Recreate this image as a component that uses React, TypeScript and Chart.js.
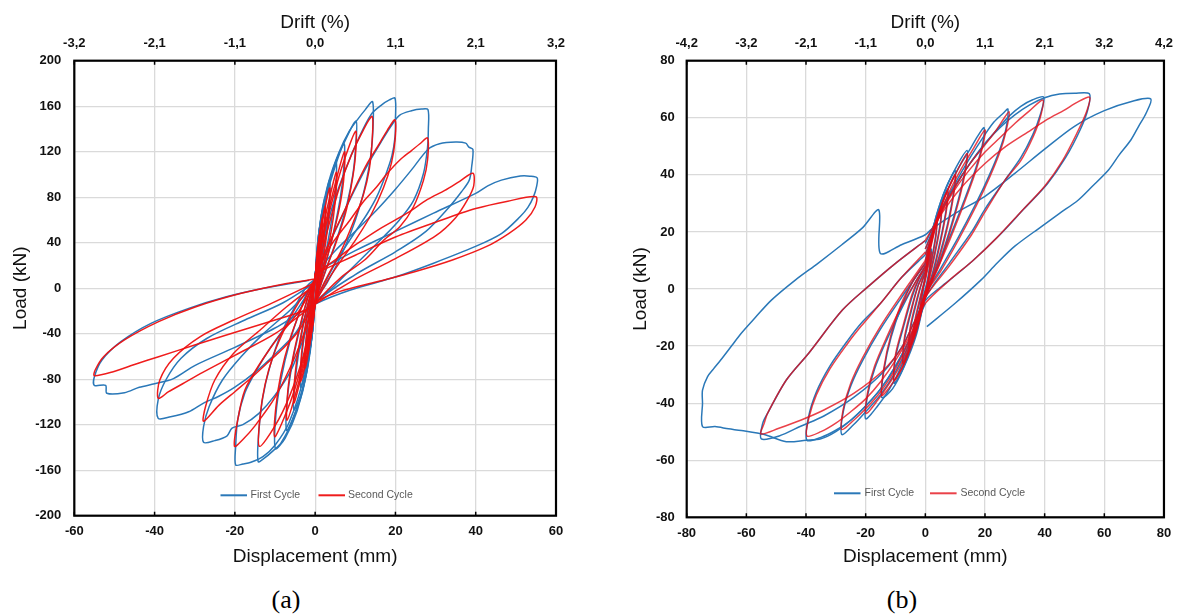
import React, { useEffect, useRef } from 'react';
import { Chart, registerables } from 'chart.js';

Chart.register(...registerables);

type P = [number, number];

// ---------------- Panel (a): displacement (mm), load (kN) ----------------
// First cycle (blue)
const A1_07: P[] = [[0,8],[0.3,24],[0.7,40],[0.6,24],[0.3,4],[0,-12],[-0.3,-24],[-0.7,-40],[-0.6,-24],[-0.3,-4],[0,8]];
const A1_12: P[] = [[0,8],[0.5,35],[1.2,55],[1.1,35],[0.6,12],[0,-12],[-0.5,-32],[-1.2,-50],[-1.1,-32],[-0.6,-10],[0,8]];
const A1_18: P[] = [[0,8],[0.7,42],[1.8,68],[1.6,45],[0.9,15],[0,-12],[-0.7,-40],[-1.8,-62],[-1.6,-42],[-0.9,-14],[0,8]];
const A1_25: P[] = [[0,9],[0.9,48],[1.8,70],[2.5,80],[2.3,55],[1.3,20],[0,-12],[-0.9,-45],[-1.8,-64],[-2.5,-72],[-2.3,-50],[-1.3,-17],[0,8]];
const A1_36: P[] = [[0,9],[1,50],[2.3,78],[3.6,95],[3.4,70],[2.2,35],[1,5],[0,-12],[-1,-48],[-2.3,-73],[-3.6,-87],[-3.4,-62],[-2.2,-30],[-1,-5],[0,8]];
const A1_53: P[] = [[0,10],[1.2,50],[3,85],[5.2,111],[5.1,88],[4.1,60],[2.5,28],[1,3],[0,-13],[-1.2,-55],[-3,-88],[-5.3,-107],[-5,-82],[-3.8,-50],[-2.2,-20],[0,8]];
const A1_73: P[] = [[0,10],[1.2,48],[2.8,80],[4.7,104],[7.2,127],[7.1,104],[6.2,78],[4.5,48],[2.5,20],[0,-13],[-1.5,-60],[-3.5,-95],[-5.5,-114],[-7.1,-125],[-7,-100],[-5.8,-68],[-3.8,-35],[-1.8,-8],[0,8]];
const A1_101: P[] = [[0,10],[1.2,50],[2.8,82],[5,110],[7.5,130],[10.2,147],[10.1,125],[9.4,100],[8,75],[6,50],[3.5,24],[1.5,4],[0,-13],[-2,-72],[-4.5,-108],[-7.5,-132],[-9.9,-141],[-9.8,-112],[-8.5,-80],[-6.3,-47],[-3.8,-20],[-1.5,0],[0,8]];
const A1_143: P[] = [[0,10],[1.5,58],[3.5,95],[6,120],[8.5,138],[10.5,148],[12.5,157],[14.3,164],[14.4,140],[13.9,118],[12.8,95],[11.2,73],[8.8,48],[6,25],[3,5],[0,-13],[-2.5,-78],[-5.5,-115],[-8.5,-136],[-10.5,-143],[-12.5,-149],[-14.2,-152.5],[-14,-125],[-13,-95],[-11.2,-68],[-8.5,-40],[-5,-16],[-2,2],[0,8]];
const A1_199: P[] = [[0,11],[2,42],[4.5,74],[7.5,104],[11,133],[14,153],[16.5,161],[18.5,165.5],[19.9,167],[20,148],[19.9,133],[19.1,116],[17.4,98],[15.3,80],[12.9,65],[9.5,47],[6.2,29],[2.9,8],[0,-13],[-3,-80],[-6.5,-118],[-10,-138],[-13,-148],[-16,-153],[-18,-154.5],[-19.8,-155.4],[-19.8,-139],[-19.3,-116],[-17.5,-92],[-14.6,-72],[-10.9,-51],[-6.2,-28],[-2.5,-8],[0,6]];
const A1_28: P[] = [[0,12],[3,35],[6,58],[9.5,84],[13,108],[16.5,129],[19,143],[21,152],[24,156],[26.5,157.5],[28.1,157],[28.2,140],[28,124],[27,101],[24.5,77],[21,60],[17,45],[13,31],[8.7,16],[4.5,1],[0,-13],[-3,-45],[-6,-72],[-10,-94],[-14,-110],[-18,-120],[-20.7,-123],[-22,-130],[-25,-134],[-27.8,-135.5],[-27.8,-121.7],[-26.4,-104],[-23.1,-80.7],[-18.4,-60],[-12.8,-39.7],[-6.2,-19.2],[0,4]];
const A1_39: P[] = [[0,13],[5,33],[10,50],[15.4,69],[20,87],[24,104],[28.1,122],[31,127],[35,128.5],[37.5,127.5],[38.3,124],[39.3,122],[39,107],[38.4,95],[36.5,85],[33.3,71],[27.6,50],[20,32],[10,12],[0,-13],[-5,-40],[-10,-58],[-15,-74],[-20,-87],[-24,-95],[-27.8,-101],[-31.5,-108.6],[-36,-113],[-39.1,-114.4],[-39.1,-98],[-37.2,-80.7],[-33.4,-61.6],[-26.9,-44],[-17.5,-28],[-8.1,-13],[0,5]];
const A1_55: P[] = [[0,14],[10,33],[20,50],[29.5,66],[40,83.4],[43,90],[46.4,95],[51.1,98.6],[53.5,98.5],[55.3,97],[55.2,90],[54.4,80.5],[53,71],[51.1,63],[46.4,48],[39.8,36.5],[29.5,22],[20.1,10],[8.8,-1.6],[0,-14],[-10,-35],[-20,-52],[-30,-68],[-35.3,-79.5],[-40,-84],[-43.8,-87.1],[-47.5,-91.9],[-51.9,-92.4],[-52.2,-85.4],[-55,-85.4],[-55,-77.8],[-53.1,-63.1],[-48.4,-47],[-40.9,-30.9],[-31.5,-17.7],[-22.1,-7.5],[-12.8,0],[-1.5,7]];

// Second cycle (red)
const A2_07: P[] = [[0,8],[0.3,22],[0.7,35],[0.6,20],[0.3,2],[0,-12],[-0.3,-22],[-0.7,-35],[-0.6,-20],[-0.3,-3],[0,8]];
const A2_12: P[] = [[0,8],[0.5,30],[1.2,50],[1.1,30],[0.6,10],[0,-12],[-0.5,-28],[-1.2,-45],[-1.1,-28],[-0.6,-8],[0,8]];
const A2_18: P[] = [[0,8],[0.8,38],[1.8,62],[1.6,40],[0.9,12],[0,-12],[-0.8,-36],[-1.8,-57],[-1.6,-37],[-0.9,-12],[0,8]];
const A2_25: P[] = [[0,9],[1,44],[2.5,72],[2.3,48],[1.3,17],[0,-12],[-1,-42],[-2.5,-70],[-2.3,-46],[-1.3,-15],[0,8]];
const A2_36: P[] = [[0,9],[1.3,48],[3.6,88],[3.4,62],[2.2,30],[1,4],[0,-12],[-1.3,-46],[-3.6,-82],[-3.4,-58],[-2.2,-27],[-1,-4],[0,8]];
const A2_53: P[] = [[0,10],[1.8,50],[3.5,78],[5.3,102],[5,76],[3.8,46],[2,18],[0,-13],[-1.8,-50],[-3.5,-78],[-5.3,-101],[-5,-76],[-3.8,-46],[-2,-16],[0,8]];
const A2_73: P[] = [[0,10],[2,48],[4.5,85],[7.3,120],[7.1,95],[6,70],[4,40],[2,15],[0,-13],[-2,-50],[-4.5,-88],[-7,-116],[-6.8,-90],[-5.6,-62],[-3.7,-32],[-1.8,-8],[0,8]];
const A2_101: P[] = [[0,10],[2,45],[4.5,80],[7,110],[10.1,138],[10,115],[9,90],[7.5,65],[5,38],[2.5,15],[0,-13],[-2.5,-55],[-5,-88],[-7.5,-112],[-10.1,-130.5],[-9.8,-105],[-8.5,-75],[-6.3,-45],[-3.5,-18],[-1.3,0],[0,8]];
const A2_142: P[] = [[0,11],[3,50],[6,88],[9,117],[12,139],[14.2,151],[14.2,130],[13.5,105],[12,82],[9.5,58],[6.5,33],[3,10],[0,-13],[-3,-60],[-6.5,-96],[-10,-121],[-13.9,-139],[-13.7,-112],[-12.5,-85],[-10.5,-60],[-7.5,-35],[-4,-12],[0,6]];
const A2_199: P[] = [[0,12],[3.5,40],[7,66],[10,89],[13,110],[16,127],[18,139],[19.9,148],[19.9,130],[19,110],[17,88],[14,65],[10,42],[6,22],[3,6],[0,-14],[-5,-60],[-10,-96],[-15,-121],[-18,-133],[-20.1,-139],[-19.3,-116],[-17.5,-89.5],[-13.7,-66],[-9.1,-42.7],[-4.4,-22],[0,4]];
const A2_28: P[] = [[0,12],[4,38],[8.7,60],[12,76],[15.3,89],[18,101],[21.1,112.7],[24,121],[26.1,127],[28,132],[28,112.7],[27,95],[24.5,71.6],[21.1,54],[17,42],[12.4,25],[6.6,10],[0,-14],[-4,-37],[-8,-53],[-12,-66],[-16,-79],[-20,-91],[-24,-103],[-27.8,-117],[-27.3,-104],[-25,-80.7],[-20.3,-57.2],[-13.7,-36.7],[-7.1,-16.3],[0,3]];
const A2_39: P[] = [[0,12],[5,25],[10,38],[16,52],[22.9,66],[28,78],[32.3,86],[36,94],[39.3,101],[39.5,90],[38,78],[35,62],[30,46],[20,26],[10,8],[0,-14],[-10,-40],[-20,-59],[-28,-74],[-33,-84],[-36.5,-91],[-39.1,-96.8],[-38.7,-80.7],[-35.3,-61.6],[-28.7,-42.7],[-20.3,-28],[-10.9,-13.3],[0,5]];
const A2_55: P[] = [[0,13],[10,29],[20,45],[30,58],[40,70],[48,76.5],[55,80.4],[54.8,71.6],[52.5,60],[48.3,48.3],[42.6,36.5],[34.2,24.8],[24.8,14.5],[15.4,5.7],[6,-3],[0,-12],[-2.4,-19.2],[-10,-28],[-22.1,-41.1],[-30,-50],[-39,-60.2],[-45,-67],[-50.3,-73.4],[-55,-76.9],[-54.8,-71.9],[-52.7,-60.2],[-47.5,-45.5],[-39,-29.4],[-29.7,-16.3],[-18.4,-4.5],[-7.1,4.2],[0,8]];

const A_FIRST: P[][] = [A1_07, A1_12, A1_18, A1_25, A1_36, A1_53, A1_73, A1_101, A1_143, A1_199, A1_28, A1_39, A1_55];
const A_SECOND: P[][] = [A2_07, A2_12, A2_18, A2_25, A2_36, A2_53, A2_73, A2_101, A2_142, A2_199, A2_28, A2_39, A2_55];

const A_X_TICKS = [-60, -40, -20, 0, 20, 40, 60];
const A_DRIFT_LABELS = ['-3,2', '-2,1', '-1,1', '0,0', '1,1', '2,1', '3,2'];
const A_Y_TICKS = [-200, -160, -120, -80, -40, 0, 40, 80, 120, 160, 200];

// ---------------- Panel (b) ----------------
// First cycle (blue)
const B1_02: P[] = [[0,4],[1,9],[2,14],[1.6,9],[0.8,3],[0,0],[-1,-5],[-2,-10],[-1.6,-6],[-0.8,-1],[0,4]];
const B1_04: P[] = [[0,5],[1.5,14],[2.8,20],[4,26],[3.5,19],[2,10],[0.5,2],[0,-1],[-1.5,-8],[-3,-14],[-4,-18],[-3.5,-12],[-2,-5],[-0.5,2],[0,5]];
const B1_055: P[] = [[0,6],[2,17],[4,25],[5.5,30],[5,23],[3,12],[1,3],[0,-1],[-2,-10],[-4,-17],[-5.5,-21],[-5,-14],[-3,-5],[-1,3],[0,6]];
const B1_075: P[] = [[0,7],[2.5,20],[5,29],[7.5,35],[7,28],[5,17],[2.5,6],[0,-2],[-2.5,-12],[-5,-20],[-7.5,-26.5],[-7,-18],[-5,-9],[-2.5,1],[0,7]];
const B1_10: P[] = [[0,8],[3,23],[6,33],[8,38],[10,41.5],[9.5,34],[7.5,23],[4.5,11],[2,3],[0,-3],[-3,-15],[-6,-24],[-8,-29],[-10.5,-33],[-10,-24],[-7.5,-14],[-4.5,-3],[-2,4],[0,8]];
const B1_14: P[] = [[0,9],[3,23],[6,33],[10,42],[14,48.5],[13.2,41],[11,31],[8,20],[4.5,9],[0,-3],[-3,-16],[-7,-27],[-11,-35],[-14.6,-38],[-13.8,-28],[-11.5,-17],[-8,-6],[-4,3],[0,9]];
const B1_20: P[] = [[0,10],[4,26],[8,36],[12,44],[15,49],[17.5,53.5],[19.7,56.5],[19,50],[16.5,41],[13,31],[8.5,19],[4,8],[0,-1],[-4,-16],[-8,-27],[-12,-35],[-16,-41],[-20,-45.5],[-19.3,-37],[-17,-28],[-13,-18],[-8,-7],[-3,3],[0,8]];
const B1_28: P[] = [[0,12],[5,27],[10,37],[15,46],[19.9,54],[23,58.5],[26,61.5],[27.7,63],[27,56],[25,49],[21.5,40],[17,30],[11,18],[5,7],[0,-2],[-5,-18],[-10,-29],[-15,-37],[-20,-43],[-24,-47.5],[-28,-51],[-27.5,-43],[-25,-34],[-21,-25],[-15,-14],[-8,-3],[0,9]];
const B1_40: P[] = [[0,14],[5,27],[10,36],[15,44],[20,51],[25,57],[28,60.5],[32,64],[36,66.3],[39.7,67.2],[38.5,61],[36,54],[32,46],[26.6,38],[20,28],[15.5,20],[8,9],[0,-3],[-5,-17],[-10,-27],[-15,-35],[-20,-41],[-25,-46],[-30,-49.5],[-35,-52],[-39.7,-53],[-39.2,-45],[-36.5,-36],[-32,-27],[-26,-18],[-21.5,-12],[-15,-5],[-8,4],[0,12]];
const B1_55: P[] = [[0,16],[5,27],[10,36],[15,44],[20,51],[25,56.5],[30,61],[35,64.5],[40,67],[45,68.3],[50,68.6],[55,68.4],[54.5,63],[52,56],[47,46],[41,37],[33,28],[25,19],[16,10],[8,3],[0,-4],[-3.9,-12],[-7.7,-20],[-14,-29],[-24,-38],[-34,-44.5],[-41.6,-48],[-49,-51.5],[-55,-52.5],[-54.5,-47],[-52.9,-43.6],[-46.6,-31.9],[-39.1,-22.5],[-27.8,-7.4],[-19,1],[-10,9],[0,17]];
const B1_75: P[] = [[0,-5],[-5,-17],[-10,-27],[-15,-35],[-20,-41],[-25,-46],[-30,-50],[-35,-52.5],[-40,-53],[-46.6,-53.5],[-54,-51],[-61.7,-49.6],[-66,-49],[-70.5,-48.2],[-74.7,-48.2],[-74.7,-40],[-74.7,-35.4],[-73,-30.7],[-71,-28],[-68.6,-24.9],[-65,-20],[-61.7,-15.5],[-57,-10],[-51.6,-3.9],[-43.5,3.2],[-36,9],[-28,15.5],[-21,21.5],[-15.6,27.7],[-15.1,12.5],[-8,15.5],[0,19],[2.1,21],[10,26.5],[20,32.5],[30,40.5],[40,49],[50,57],[60,62.5],[70,66],[75.6,66.6],[74,61.6],[71.5,57],[68.9,52.2],[65,47],[61.4,41.7],[56,36],[51.3,31.2],[45,26.5],[38.8,21.8],[30,15],[24,9],[18.7,3.2],[10,-5],[0.5,-13.2]];

// Second cycle (red)
const B2_02: P[] = [[0,3],[1,8],[2,13],[1.6,8],[0.8,2],[0,-1],[-1,-5],[-2,-10],[-1.6,-5],[-0.8,0],[0,3]];
const B2_04: P[] = [[0,4],[1.5,13],[2.8,19],[4,25],[3.5,18],[2,9],[0.5,1],[0,-1],[-1.5,-8],[-3,-13],[-4,-17],[-3.5,-11],[-2,-4],[-0.5,2],[0,4]];
const B2_055: P[] = [[0,5],[2,16],[4,24],[5.5,29],[5,22],[3,11],[1,2],[0,-2],[-2,-10],[-4,-16],[-5.5,-20.5],[-5,-13],[-3,-4],[-1,3],[0,5]];
const B2_075: P[] = [[0,6],[2.5,19],[5,28],[7.5,34],[7,27],[5,16],[2.5,5],[0,-2],[-2.5,-12],[-5,-19.5],[-7.5,-26],[-7,-17],[-5,-8],[-2.5,1],[0,6]];
const B2_10: P[] = [[0,7],[3,21],[6,31],[8,36],[10,40],[9.5,33],[7.5,22],[4.5,10],[2,2],[0,-3],[-3,-14],[-6,-23],[-8,-28],[-10.5,-32],[-10,-23],[-7.5,-13],[-4.5,-2],[-2,4],[0,7]];
const B2_14: P[] = [[0,9],[3,22],[6,31],[10,40],[14,47.5],[13.2,40],[11,30],[8,19],[4.5,8],[0,-3],[-3,-15],[-7,-26],[-11,-33],[-14.6,-37.2],[-13.8,-27],[-11.5,-16],[-8,-5],[-4,3],[0,9]];
const B2_20: P[] = [[0,10],[4,24],[8,34],[12,42],[16,49],[20,55.7],[19,49],[16.5,40],[13,30],[8.5,18],[4,7],[0,-1],[-4,-15],[-8,-26],[-12,-33],[-16,-39],[-19.9,-43.6],[-19.3,-36],[-17,-27],[-13,-17],[-8,-6],[-3,3],[0,8]];
const B2_28: P[] = [[0,12],[5,26],[10,36],[15,44],[20,50.5],[24,56],[28.1,62.1],[27,55],[25,48],[21.5,39],[17,29],[11,17],[5,6],[0,-2],[-5,-17],[-10,-28],[-15,-36],[-20,-42],[-24,-46],[-28,-49.2],[-27.5,-42],[-25,-33],[-21,-24],[-15,-13],[-8,-2],[0,10]];
const B2_40: P[] = [[0,14],[5,26],[10,35],[15,42],[20,48],[25,53],[30,58],[35,62.5],[39.4,66.2],[38.5,60],[36,53],[32,45],[26.6,38],[20,27],[15.5,19],[8,8],[0,-3],[-5,-16],[-10,-25],[-15,-32.5],[-20,-38.5],[-25,-43],[-30,-47],[-35,-50],[-39.7,-51.5],[-39,-45],[-36.5,-37],[-32,-28],[-26,-19],[-21.5,-13],[-15,-5],[-8,4],[0,13]];
const B2_55: P[] = [[0,17],[5.5,26.5],[12,35.5],[20,44],[27,50],[35.4,55.7],[41,59.5],[46.6,62.7],[51,65.5],[55.1,67.2],[54,62],[51,55],[46,45],[40,36],[32,27],[24,18],[16,10],[8,3],[0,-5],[-3.9,-12],[-7.7,-20.2],[-14,-28.4],[-24,-36.6],[-34,-42.4],[-41.6,-45.9],[-49.1,-48.8],[-55.1,-50.8],[-54,-47],[-52.9,-43.6],[-46.6,-31.9],[-39.1,-22.5],[-27.8,-7.4],[-19,1],[-10,9],[0,17]];

const B_FIRST: P[][] = [B1_02, B1_04, B1_055, B1_075, B1_10, B1_14, B1_20, B1_28, B1_40, B1_55, B1_75];
const B_SECOND: P[][] = [B2_02, B2_04, B2_055, B2_075, B2_10, B2_14, B2_20, B2_28, B2_40, B2_55];

const B_X_TICKS = [-80, -60, -40, -20, 0, 20, 40, 60, 80];
const B_DRIFT_LABELS = ['-4,2', '-3,2', '-2,1', '-1,1', '0,0', '1,1', '2,1', '3,2', '4,2'];
const B_Y_TICKS = [-80, -60, -40, -20, 0, 20, 40, 60, 80];

const SERIES_LABELS = ['First Cycle', 'Second Cycle'];
const BLUE = '#2a78b8';

const FONT = 'Liberation Sans, Arial, Helvetica, sans-serif';

interface Spec {
  xTicks: number[];
  drift: string[];
  yTicks: number[];
  first: P[][];
  second: P[][];
  red: string;
  yAxisW: number;
  yTitlePad: number;
  yTickPad: number;
  topH: number;
  topTitlePad: number;
  topTickPad: number;
  bottomH: number;
  bottomTitlePad: number;
  bottomTickPad: number;
  padRight: number;
  legend: { b0: number; b1: number; bt: number; r0: number; r1: number; rt: number; y: number };
}

const SPEC_A: Spec = {
  xTicks: A_X_TICKS, drift: A_DRIFT_LABELS, yTicks: A_Y_TICKS,
  first: A_FIRST, second: A_SECOND, red: 'rgba(238,16,16,0.95)',
  yAxisW: 74.3, yTitlePad: 9, yTickPad: 13,
  topH: 60.7, topTitlePad: 11, topTickPad: 9,
  bottomH: 59.3, bottomTitlePad: 7, bottomTickPad: 8,
  padRight: 35,
  legend: { b0: 220.5, b1: 247, bt: 250.5, r0: 318.5, r1: 345, rt: 348, y: 495.3 },
};

const SPEC_B: Spec = {
  xTicks: B_X_TICKS, drift: B_DRIFT_LABELS, yTicks: B_Y_TICKS,
  first: B_FIRST, second: B_SECOND, red: 'rgba(228,12,22,0.78)',
  yAxisW: 95.7, yTitlePad: 38.5, yTickPad: 12,
  topH: 60.7, topTitlePad: 11, topTickPad: 9,
  bottomH: 57.7, bottomTitlePad: 7, bottomTickPad: 8,
  padRight: 15,
  legend: { b0: 243, b1: 269.5, bt: 273.6, r0: 339, r1: 365.6, rt: 369.4, y: 493.3 },
};

const W = 591;
const H = 575;

function Panel({ spec, left }: { spec: Spec; left: number }) {
  const ref = useRef<HTMLCanvasElement | null>(null);

  useEffect(() => {
    if (!ref.current) return;
    const datasets: any[] = [];
    spec.second.forEach((loop) =>
      datasets.push({
        label: SERIES_LABELS[1],
        data: loop.map(([x, y]) => ({ x, y })),
        borderColor: spec.red,
        backgroundColor: spec.red,
        borderWidth: 1.5,
        showLine: true,
        pointRadius: 0,
        tension: 0.3,
        fill: false,
        order: 0,
      })
    );
    spec.first.forEach((loop) =>
      datasets.push({
        label: SERIES_LABELS[0],
        data: loop.map(([x, y]) => ({ x, y })),
        borderColor: BLUE,
        backgroundColor: BLUE,
        borderWidth: 1.5,
        showLine: true,
        pointRadius: 0,
        tension: 0.3,
        fill: false,
        order: 1,
      })
    );

    const xMin = spec.xTicks[0];
    const xMax = spec.xTicks[spec.xTicks.length - 1];
    const yMin = spec.yTicks[0];
    const yMax = spec.yTicks[spec.yTicks.length - 1];
    const tickFont = { family: FONT, size: 13, weight: 'bold' as const };
    const titleFont = { family: FONT, size: 19 };

    const framePlugin = {
      id: 'frameAndLegend',
      afterDatasetsDraw(chart: any) {
        const { ctx, chartArea } = chart;
        const { left: l, right: r, top: t, bottom: b } = chartArea;
        const xs = chart.scales.x;
        ctx.save();
        ctx.strokeStyle = '#000';
        ctx.lineWidth = 1.5;
        spec.xTicks.forEach((v) => {
          const px = xs.getPixelForValue(v);
          ctx.beginPath();
          ctx.moveTo(px, t);
          ctx.lineTo(px, t + 4);
          ctx.moveTo(px, b);
          ctx.lineTo(px, b - 4);
          ctx.stroke();
        });
        ctx.lineWidth = 2.2;
        ctx.strokeRect(l, t, r - l, b - t);

        // legend inside plot
        const lg = spec.legend;
        ctx.lineWidth = 2;
        ctx.strokeStyle = BLUE;
        ctx.beginPath();
        ctx.moveTo(lg.b0, lg.y);
        ctx.lineTo(lg.b1, lg.y);
        ctx.stroke();
        ctx.strokeStyle = spec.red;
        ctx.beginPath();
        ctx.moveTo(lg.r0, lg.y);
        ctx.lineTo(lg.r1, lg.y);
        ctx.stroke();
        ctx.fillStyle = '#595959';
        ctx.font = `10.5px ${FONT}`;
        ctx.textBaseline = 'middle';
        ctx.textAlign = 'left';
        ctx.fillText(SERIES_LABELS[0], lg.bt, lg.y);
        ctx.fillText(SERIES_LABELS[1], lg.rt, lg.y);
        ctx.restore();
      },
    };

    const chart = new Chart(ref.current, {
      type: 'scatter',
      data: { datasets },
      options: {
        animation: false,
        responsive: false,
        devicePixelRatio: 1,
        layout: { padding: { left: 0, right: spec.padRight, top: 0, bottom: 0 } },
        plugins: {
          legend: { display: false },
          tooltip: { enabled: false },
          title: { display: false },
        },
        scales: {
          x: {
            type: 'linear',
            position: 'bottom',
            min: xMin,
            max: xMax,
            afterBuildTicks: (axis: any) => {
              axis.ticks = spec.xTicks.map((v) => ({ value: v }));
            },
            afterFit: (axis: any) => {
              axis.height = spec.bottomH;
            },
            grid: { color: '#dadada', lineWidth: 1.3, drawTicks: false },
            border: { display: false },
            ticks: { padding: spec.bottomTickPad, font: tickFont, color: '#111', maxRotation: 0, autoSkip: false },
            title: {
              display: true,
              text: 'Displacement (mm)',
              font: titleFont,
              color: '#111',
              padding: { top: 0, bottom: spec.bottomTitlePad },
            },
          },
          x2: {
            type: 'linear',
            position: 'top',
            min: xMin,
            max: xMax,
            afterBuildTicks: (axis: any) => {
              axis.ticks = spec.xTicks.map((v) => ({ value: v }));
            },
            afterFit: (axis: any) => {
              axis.height = spec.topH;
            },
            grid: { display: false, drawTicks: false },
            border: { display: false },
            ticks: {
              padding: spec.topTickPad,
              font: tickFont,
              color: '#111',
              maxRotation: 0,
              autoSkip: false,
              callback: (value: any) => {
                const i = spec.xTicks.indexOf(Number(value));
                return i >= 0 ? spec.drift[i] : '';
              },
            },
            title: {
              display: true,
              text: 'Drift (%)',
              font: titleFont,
              color: '#111',
              padding: { top: spec.topTitlePad, bottom: 0 },
            },
          },
          y: {
            type: 'linear',
            position: 'left',
            min: yMin,
            max: yMax,
            afterBuildTicks: (axis: any) => {
              axis.ticks = spec.yTicks.map((v) => ({ value: v }));
            },
            afterFit: (axis: any) => {
              axis.width = spec.yAxisW;
            },
            grid: { color: '#dadada', lineWidth: 1.3, drawTicks: false },
            border: { display: false },
            ticks: { padding: spec.yTickPad, font: tickFont, color: '#111', autoSkip: false },
            title: {
              display: true,
              text: 'Load (kN)',
              font: titleFont,
              color: '#111',
              padding: { top: spec.yTitlePad, bottom: 0 },
            },
          },
        },
      } as any,
      plugins: [framePlugin],
    });
    return () => chart.destroy();
  }, [spec]);

  return (
    <canvas
      ref={ref}
      width={W}
      height={H}
      style={{ position: 'absolute', left, top: 0, width: W, height: H }}
    />
  );
}

export default function App() {
  const capStyle: React.CSSProperties = {
    position: 'absolute',
    top: 584,
    width: 100,
    textAlign: 'center',
    fontFamily: 'Liberation Serif, Times New Roman, serif',
    fontSize: 26,
    lineHeight: '32px',
    color: '#000',
  };
  return (
    <div style={{ position: 'absolute', left: 0, top: 0, width: 1182, height: 615, background: '#fff', overflow: 'hidden' }}>
      <Panel spec={SPEC_A} left={0} />
      <Panel spec={SPEC_B} left={591} />
      <div style={{ ...capStyle, left: 236 }}>(a)</div>
      <div style={{ ...capStyle, left: 852 }}>(b)</div>
    </div>
  );
}
